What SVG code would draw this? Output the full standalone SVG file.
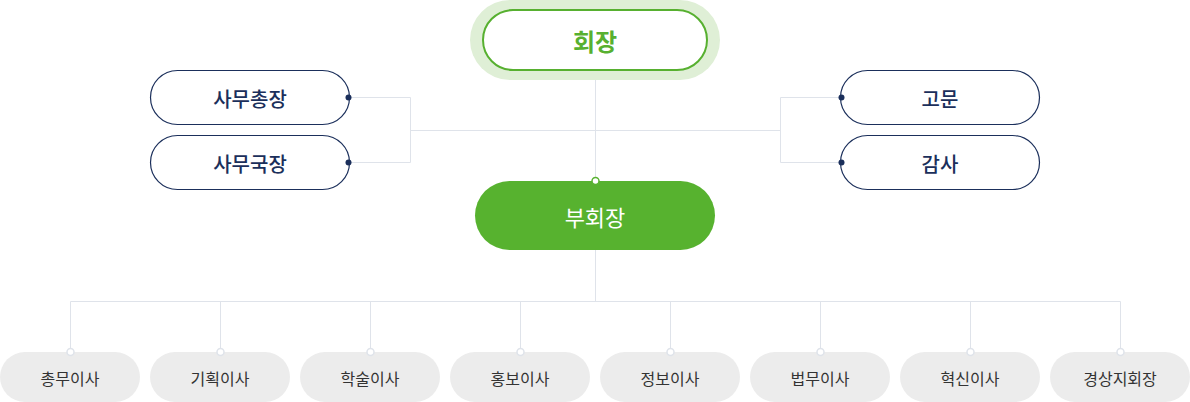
<svg xmlns="http://www.w3.org/2000/svg" width="1190" height="402" viewBox="0 0 1190 402">
<defs>
<style>
text{font-family:"Noto Sans CJK KR","Noto Sans",sans-serif;text-anchor:middle;dominant-baseline:central}
.ln{stroke:#dfe3ea;stroke-width:1;fill:none}
.side rect{fill:#fff;stroke:#1b2f5b;stroke-width:1.2}
.side text{fill:#1b2f5b;font-size:20px;font-weight:500}
.sdot{fill:#1b2f5b}
.bot rect{fill:#ececec}
.bot text{fill:#333;font-size:16px}
.bdot{fill:#fff;stroke:#dfe3ea;stroke-width:1.5}
</style>
</defs>
<g id="connectors">
<path class="ln" d="M595.5 80V181M595.5 250V301.5M70.5 301.5H1120.5"/>
<path class="ln" d="M350 97.5H410.5V162.5H350M410.5 130.5H780.5M840 97.5H780.5V162.5H840"/>
<path class="ln" d="M70.5 301.5V352M220.5 301.5V352M370.5 301.5V352M520.5 301.5V352M670.5 301.5V352M820.5 301.5V352M970.5 301.5V352M1120.5 301.5V352"/>
</g>
<g id="president">
<rect x="470" y="0" width="250" height="80" rx="40" fill="#dfefd6"/>
<rect x="483" y="10" width="224" height="60" rx="30" fill="#fff" stroke="#57b030" stroke-width="2"/>
<text x="595" y="40" fill="#57b030" font-size="24" font-weight="700">회장</text>
</g>
<g id="secgen" class="side">
<rect x="150.5" y="70.5" width="199" height="54" rx="27"/>
<text x="250" y="98">사무총장</text>
<circle class="sdot" cx="348.5" cy="97.5" r="3"/>
</g>
<g id="secdir" class="side">
<rect x="150.5" y="135.5" width="199" height="54" rx="27"/>
<text x="250" y="163">사무국장</text>
<circle class="sdot" cx="348.5" cy="162.5" r="3"/>
</g>
<g id="advisor" class="side">
<rect x="840.5" y="70.5" width="199" height="54" rx="27"/>
<text x="940" y="98">고문</text>
<circle class="sdot" cx="841.5" cy="97.5" r="3"/>
</g>
<g id="auditor" class="side">
<rect x="840.5" y="135.5" width="199" height="54" rx="27"/>
<text x="940" y="163">감사</text>
<circle class="sdot" cx="841.5" cy="162.5" r="3"/>
</g>
<g id="vicepresident">
<rect x="475" y="181" width="240" height="69" rx="34.5" fill="#57b22f"/>
<text x="595" y="216" fill="#fff" font-size="22" font-weight="400">부회장</text>
<circle cx="595.5" cy="181" r="3.5" fill="#fff" stroke="#57b22f" stroke-width="1.5"/>
</g>
<g id="n1" class="bot"><rect x="0" y="352" width="140" height="50" rx="25"/><text x="70" y="378">총무이사</text><circle class="bdot" cx="70.5" cy="352" r="3.5"/></g>
<g id="n2" class="bot"><rect x="150" y="352" width="140" height="50" rx="25"/><text x="220" y="378">기획이사</text><circle class="bdot" cx="220.5" cy="352" r="3.5"/></g>
<g id="n3" class="bot"><rect x="300" y="352" width="140" height="50" rx="25"/><text x="370" y="378">학술이사</text><circle class="bdot" cx="370.5" cy="352" r="3.5"/></g>
<g id="n4" class="bot"><rect x="450" y="352" width="140" height="50" rx="25"/><text x="520" y="378">홍보이사</text><circle class="bdot" cx="520.5" cy="352" r="3.5"/></g>
<g id="n5" class="bot"><rect x="600" y="352" width="140" height="50" rx="25"/><text x="670" y="378">정보이사</text><circle class="bdot" cx="670.5" cy="352" r="3.5"/></g>
<g id="n6" class="bot"><rect x="750" y="352" width="140" height="50" rx="25"/><text x="820" y="378">법무이사</text><circle class="bdot" cx="820.5" cy="352" r="3.5"/></g>
<g id="n7" class="bot"><rect x="900" y="352" width="140" height="50" rx="25"/><text x="970" y="378">혁신이사</text><circle class="bdot" cx="970.5" cy="352" r="3.5"/></g>
<g id="n8" class="bot"><rect x="1050" y="352" width="140" height="50" rx="25"/><text x="1120" y="378">경상지회장</text><circle class="bdot" cx="1120.5" cy="352" r="3.5"/></g>
</svg>
